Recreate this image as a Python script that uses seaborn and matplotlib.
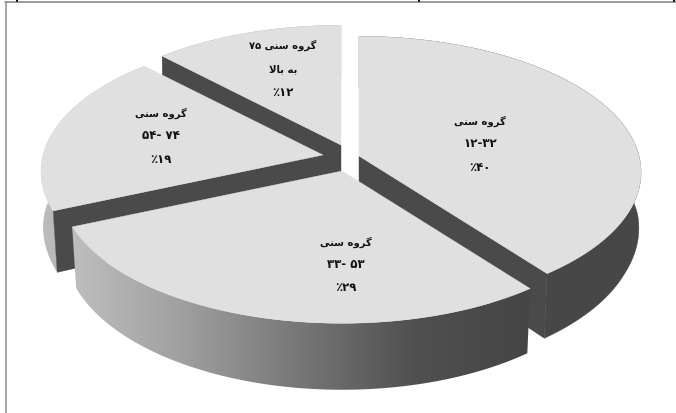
import re
import numpy as np
import matplotlib
matplotlib.use("Agg")
import matplotlib.pyplot as plt
from matplotlib.patches import Polygon
import seaborn as sns

# ---- data ----
groups = ["12-32", "33-53", "54-74", "75+"]
shares = [39.6, 28.9, 19.3, 12.2]          # angular shares
line1 = ["گروه سنی", "گروه سنی", "گروه سنی", "گروه سنی ۷۵"]
line2 = ["۱۲-۳۲", "۳۳- ۵۳", "۵۴- ۷۴", "به بالا"]
line3 = ["٪۴۰", "٪۲۹", "٪۱۹", "٪۱۲"]

# ---- style ----
apex = [(359, 157), (342, 172), (323, 156), (341, 146)]
label_x = [480, 346, 161, 283]
label_y = [(121, 144, 168), (242, 265, 288), (113, 136, 160), (45, 69, 93)]
frame_ticks = [17, 419, 674]
A, B, K, DEPTH = 280, 134, 0.12, 58.5
TOP = "#e0e0e0"
CUT = "#4a4a4a"
LETTER_SIZE, NUMBER_SIZE, PERCENT_SIZE = 7.2, 8.6, 8.4

FORMS = {  # isolated, final, initial, medial
    "گ": (0xFB92, 0xFB93, 0xFB94, 0xFB95), "ر": (0xFEAD, 0xFEAE, None, None),
    "و": (0xFEED, 0xFEEE, None, None), "ه": (0xFEE9, 0xFEEA, 0xFEEB, 0xFEEC),
    "س": (0xFEB1, 0xFEB2, 0xFEB3, 0xFEB4), "ن": (0xFEE5, 0xFEE6, 0xFEE7, 0xFEE8),
    "ی": (0xFBFC, 0xFBFD, 0xFBFE, 0xFBFF), "ب": (0xFE8F, 0xFE90, 0xFE91, 0xFE92),
    "ا": (0xFE8D, 0xFE8E, None, None), "ل": (0xFEDD, 0xFEDE, 0xFEDF, 0xFEE0),
}


def shape_word(word):
    out, joined, i = [], False, 0
    while i < len(word):
        c = word[i]
        if word[i:i + 2] == "لا":
            out.append(chr(0xFEFC if joined else 0xFEFB))
            joined, i = False, i + 2
            continue
        iso, fin, ini, med = FORMS[c]
        nxt = i + 1 < len(word)
        can = ini is not None and nxt
        code = (med if can else fin) if joined else (ini if can else iso)
        out.append(chr(code))
        joined, i = can, i + 1
    return "".join(reversed(out))


def visual(text):
    if not any(c in FORMS for c in text):
        return text
    letters = "".join(FORMS)
    tokens = re.findall(r"[%s]+|\s+|[^%s\s]+" % (letters, letters), text)
    return "".join(shape_word(t) if t[0] in FORMS else t for t in reversed(tokens))


def rim(ax_, ay, t):
    r = np.radians(t)
    u, v = np.sin(r), np.cos(r)
    d = 1 + K * v
    return ax_ + A * u / d, ay - B * v / d


def rim_low(ax_, ay, t):
    r = np.radians(t)
    u, v = np.sin(r), np.cos(r)
    d = 1 + K * v
    squeeze = 0.995 - 0.01 * np.clip(-v / 0.4, 0, 1)
    return ax_ + squeeze * A * u / d, ay - B * v / d + DEPTH / d


sns.set_theme(style="white")
fig, ax = plt.subplots(figsize=(6.76, 4.14), dpi=100)
ax.set_position([0, 0, 1, 1])
ax.axis("off")

edges = np.concatenate([[0], np.cumsum(shares)]) * 3.6

# outer wall shading: colour runs with x across each slice's wall
wall_style = {
    0: "#474747",
    1: sns.blend_palette(["#bebebe", "#9e9e9e", "#767676", "#505050", "#454545"], as_cmap=True),
    2: sns.blend_palette(["#bcbcbc", "#a6a6a6"], as_cmap=True),
    3: "#a6a6a6",
}
order = {3: 1, 2: 2, 0: 3, 1: 4}
cut_edge = {3: 3, 2: 2, 0: 1}   # the rim edge whose cut face can be seen


def draw_wall(i):
    ax_, ay = apex[i]
    tt = np.linspace(edges[i], edges[i + 1], 200)
    x1, y1 = rim(ax_, ay, tt)
    x2, y2 = rim_low(ax_, ay, tt[::-1])
    xs, ys = np.r_[x1, x2], np.r_[y1, y2]
    style = wall_style[i]
    if isinstance(style, str):
        ax.fill(xs, ys, color=style, lw=0.3, zorder=order[i])
        return
    im = ax.imshow(np.linspace(0, 1, 256)[None, :], cmap=style, aspect="auto",
                   extent=[xs.min(), xs.max(), ys.max(), ys.min()], zorder=order[i])
    im.set_clip_path(Polygon(np.c_[xs, ys], transform=ax.transData))


def draw_cut(i):
    ax_, ay = apex[i]
    t = edges[cut_edge[i]]
    x1, y1 = rim(ax_, ay, t)
    x2, y2 = rim_low(ax_, ay, t)
    ax.fill([ax_, x1, x2, ax_], [ay, y1, y2, ay + DEPTH], color=CUT, lw=0.3, zorder=order[i] + 0.2)


def draw_top(i):
    ax_, ay = apex[i]
    tt = np.linspace(edges[i], edges[i + 1], 200)
    x, y = rim(ax_, ay, tt)
    ax.fill(np.r_[ax_, x], np.r_[ay, y], color=TOP, lw=0.3, zorder=order[i] + 0.5)


for i in [3, 2, 0, 1]:
    draw_wall(i)
    if i in cut_edge:
        draw_cut(i)
    draw_top(i)

for i, (x, ys) in enumerate(zip(label_x, label_y)):
    sizes = (LETTER_SIZE, LETTER_SIZE if i == 3 else NUMBER_SIZE, PERCENT_SIZE)
    for txt, y, s in zip((line1[i], line2[i], line3[i]), ys, sizes):
        ax.text(x, y, visual(txt), ha="center", va="center", fontsize=s,
                fontweight="bold", family="DejaVu Sans", color="#111111", zorder=10)

# page frame
ax.plot([5, 676], [2.8, 2.8], color="#808080", lw=1.1, zorder=11)
ax.plot([5.8, 5.8], [2.5, 414], color="#909090", lw=1.1, zorder=11)
for tx in frame_ticks:
    ax.plot([tx, tx], [0, 2], color="black", lw=1.4, zorder=12)

ax.set_xlim(0, 676)
ax.set_ylim(414, 0)
fig.savefig("out.png", dpi=100)
